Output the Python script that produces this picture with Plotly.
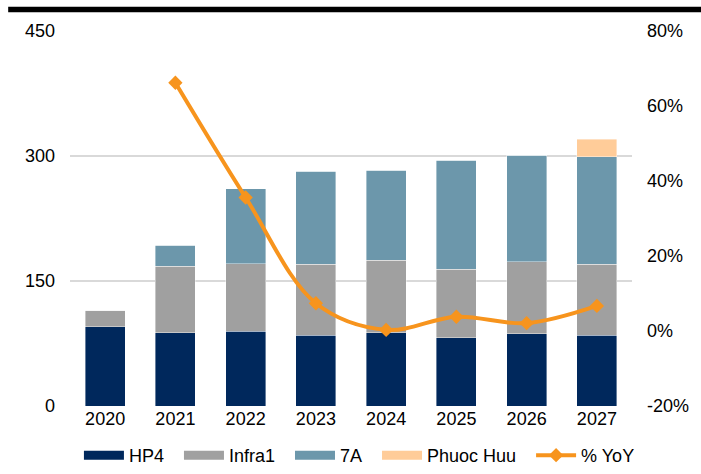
import plotly.graph_objects as go

years = ["2020", "2021", "2022", "2023", "2024", "2025", "2026", "2027"]
hp4 = [95, 88, 90, 85, 88, 82, 87, 85]
infra1 = [20, 80, 81, 85, 87, 82, 86, 85]
a7 = [0, 25, 90, 112, 108, 131, 128, 129]
phuoc_huu = [0, 0, 0, 0, 0, 0, 0, 21]
yoy = [None, 0.662, 0.356, 0.074, 0.003, 0.038, 0.021, 0.067]

names = ["HP4", "Infra1", "7A", "Phuoc Huu"]
series = [hp4, infra1, a7, phuoc_huu]
colors = ["#00285C", "#A0A0A0", "#6C97AB", "#FFCC99"]
line_color = "#F7941D"
y2_ticks = [-0.2, 0, 0.2, 0.4, 0.6, 0.8]
y2_labels = ["-20%", "0%", "20%", "40%", "60%", "80%"]

FONT = "Liberation Sans, Arial, sans-serif"
PAD = "\u00a0\u00a0"

fig = go.Figure()
for n, s, c in zip(names, series, colors):
    fig.add_trace(go.Bar(x=years, y=s, name=n, marker=dict(color=c, line=dict(color="rgba(255,255,255,0.5)", width=0.8)),
                         showlegend=False, legendgroup=n))
    fig.add_trace(go.Scatter(x=[None], y=[None], mode="lines", name=n + PAD, legendgroup=n,
                             line=dict(color=c, width=9), showlegend=True))

fig.add_trace(go.Scatter(x=years, y=yoy, name="% YoY", yaxis="y2", mode="lines+markers",
                         line=dict(color=line_color, width=4, shape="spline", smoothing=1),
                         marker=dict(symbol="diamond", size=11, color=line_color)))

fig.update_layout(
    barmode="stack",
    bargap=0.43,
    width=701, height=474,
    margin=dict(l=70, r=69, t=31, b=68, autoexpand=False),
    paper_bgcolor="white", plot_bgcolor="white",
    font=dict(family=FONT, size=18, color="#000000"),
    xaxis=dict(showgrid=False, showline=False, ticks="", tickfont=dict(size=18)),
    yaxis=dict(range=[0, 450], tickvals=[0, 150, 300, 450], showgrid=True, gridcolor="#D9D9D9", gridwidth=1.5,
               zeroline=False, showline=False, ticks="", ticklabelstandoff=14),
    yaxis2=dict(range=[-0.2, 0.8], tickvals=y2_ticks, ticktext=y2_labels, overlaying="y",
                side="right", showgrid=False, zeroline=False, showline=False, ticks="", ticklabelstandoff=14),
    legend=dict(orientation="h", x=0.515, xanchor="center", y=0, yanchor="bottom",
                yref="container", font=dict(size=18), itemwidth=40, tracegroupgap=0),
    shapes=[dict(type="line", xref="paper", yref="paper", x0=-0.11, x1=1.13, y0=1.0576, y1=1.0576,
                 line=dict(color="black", width=5.5))],
)

fig.write_html("out.html")
